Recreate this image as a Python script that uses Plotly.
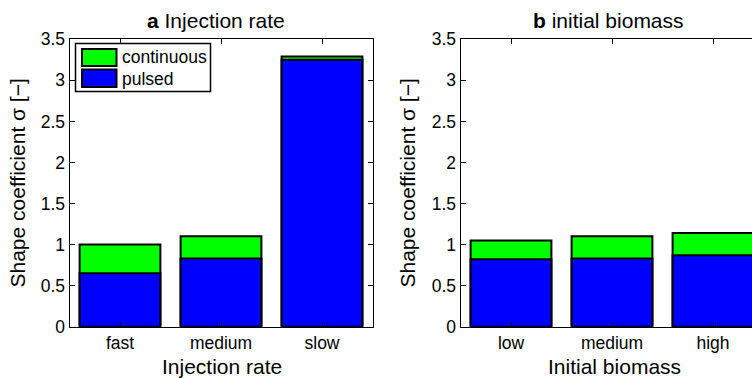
import plotly.graph_objects as go

# ---- data ----
cats_a = ["fast", "medium", "slow"]
cont_a = [1.00, 1.10, 3.29]
puls_a = [0.65, 0.83, 3.25]

cats_b = ["low", "medium", "high"]
cont_b = [1.05, 1.10, 1.14]
puls_b = [0.82, 0.83, 0.87]

yticks = [0, 0.5, 1, 1.5, 2, 2.5, 3, 3.5]
ytick_text = ["0", "0.5", "1", "1.5", "2", "2.5", "3", "3.5"]

series_names = ["continuous", "pulsed"]
series_colors = ["#00FF00", "#0000FF"]

W, H = 752, 378
FONT = "Liberation Sans, Arial, Helvetica, sans-serif"

def px_x(v):
    return v / W

def px_y(v):
    return 1 - v / H

fig = go.Figure()

for cats, cont, puls, xa, ya in [(cats_a, cont_a, puls_a, "x", "y"),
                                 (cats_b, cont_b, puls_b, "x2", "y2")]:
    for vals, name, col in [(cont, series_names[0], series_colors[0]),
                            (puls, series_names[1], series_colors[1])]:
        fig.add_trace(go.Bar(x=cats, y=vals, name=name, width=0.8,
                             marker=dict(color=col, line=dict(color="black", width=2)),
                             xaxis=xa, yaxis=ya, showlegend=False))

ydom = [px_y(326.7), px_y(39.3)]
axis_common = dict(showline=True, linecolor="black", linewidth=1, ticks="inside",
                   ticklen=5, tickcolor="black", tickwidth=1, showgrid=False,
                   zeroline=False, automargin=False,
                   tickfont=dict(family=FONT, size=17.5, color="black"))

fig.update_layout(
    width=W, height=H, margin=dict(l=0, r=0, t=0, b=0, pad=0, autoexpand=False),
    paper_bgcolor="white", plot_bgcolor="white",
    barmode="overlay", bargap=0.2,
    font=dict(family=FONT, color="black"),
    xaxis=dict(domain=[px_x(69.5), px_x(372.5)], anchor="y", type="category",
               range=[-0.5, 2.5], mirror="ticks", **axis_common),
    yaxis=dict(domain=ydom, anchor="x", range=[0, 3.5], tickvals=yticks,
               ticktext=ytick_text, mirror="ticks", **axis_common),
    xaxis2=dict(domain=[px_x(460.5), 1.0], anchor="y2", type="category",
                range=[-0.5, 2.5 - 11.5 / 101], mirror="ticks", **axis_common),
    yaxis2=dict(domain=ydom, anchor="x2", range=[0, 3.5], tickvals=yticks,
                ticktext=ytick_text, mirror=False, **axis_common),
)

annots = []
# titles
annots.append(dict(text="<b>a</b> Injection rate", x=px_x(216), y=px_y(20), xref="paper",
                   yref="paper", showarrow=False, font=dict(size=21, family=FONT),
                   xanchor="center", yanchor="middle"))
annots.append(dict(text="<b>b</b> initial biomass", x=px_x(608), y=px_y(20), xref="paper",
                   yref="paper", showarrow=False, font=dict(size=21, family=FONT),
                   xanchor="center", yanchor="middle"))
# x-axis titles
annots.append(dict(text="Injection rate", x=px_x(222), y=px_y(366.5), xref="paper",
                   yref="paper", showarrow=False, font=dict(size=21, family=FONT),
                   xanchor="center", yanchor="middle"))
annots.append(dict(text="Initial biomass", x=px_x(614), y=px_y(366.5), xref="paper",
                   yref="paper", showarrow=False, font=dict(size=21, family=FONT),
                   xanchor="center", yanchor="middle"))
# y-axis titles
for xc in [16.5, 406.5]:
    annots.append(dict(text="Shape coefficient σ [−]", x=px_x(xc), y=px_y(183), xref="paper",
                       yref="paper", showarrow=False, textangle=-90,
                       font=dict(size=21, family=FONT), xanchor="center", yanchor="middle"))

# custom legend
shapes = []
shapes.append(dict(type="rect", xref="paper", yref="paper",
                   x0=px_x(75.5), x1=px_x(210.5), y0=px_y(91.5), y1=px_y(43.5),
                   line=dict(color="black", width=1.5), fillcolor="white"))
legend_rows = [(49, 66, 57.5), (69.5, 87, 78.5)]
for (top, bot, mid), name, col in zip(legend_rows, series_names, series_colors):
    shapes.append(dict(type="rect", xref="paper", yref="paper",
                       x0=px_x(82), x1=px_x(116.5), y0=px_y(bot), y1=px_y(top),
                       line=dict(color="black", width=2), fillcolor=col))
    annots.append(dict(text=name, x=px_x(120), y=px_y(mid), xref="paper", yref="paper",
                       showarrow=False, font=dict(size=17.5, family=FONT),
                       xanchor="left", yanchor="middle"))

fig.update_layout(annotations=annots, shapes=shapes)

fig.write_html("out.html")
